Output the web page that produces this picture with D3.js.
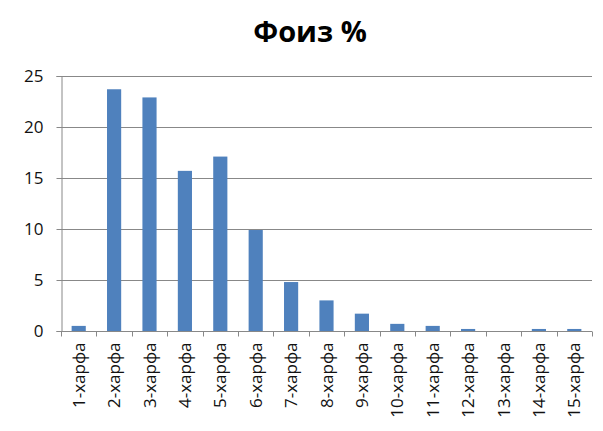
<!DOCTYPE html>
<html>
<head>
<meta charset="utf-8">
<script src="https://cdn.jsdelivr.net/npm/d3@7"></script>
<style>
  body { margin: 0; background: #fff; }
  text { font-family: "Open Sans", "Noto Sans", sans-serif; }
</style>
</head>
<body>
<svg id="chart" width="603" height="431"></svg>
<script>
// data
var categories = ["1-харфа","2-харфа","3-харфа","4-харфа","5-харфа","6-харфа","7-харфа",
                  "8-харфа","9-харфа","10-харфа","11-харфа","12-харфа","13-харфа","14-харфа","15-харфа"];
var values = [0.5, 23.7, 22.9, 15.7, 17.1, 9.9, 4.8, 3.0, 1.7, 0.7, 0.5, 0.2, 0, 0.2, 0.2];
var yTicks = [0, 5, 10, 15, 20, 25];
var title = "Фоиз %";

var chart = d3.select("#chart");
var plotLeft = 61, plotRight = 592, plotTop = 76, plotBottom = 331;

var xScale = d3.scaleBand()
    .domain(categories)
    .range([plotLeft, plotRight])
    .paddingInner(0.6)
    .paddingOuter(0.3);

var xEdge = d3.scaleLinear()
    .domain([0, categories.length])
    .range([plotLeft, plotRight]);

var yScale = d3.scaleLinear()
    .domain([0, 25])
    .range([plotBottom, plotTop]);

// title
chart.append("text")
    .text(title)
    .attr("x", 310)
    .attr("y", 42)
    .attr("text-anchor", "middle")
    .attr("font-size", "29px")
    .attr("font-weight", "bold")
    .attr("fill", "#000");

// gridlines
chart.append("g")
    .selectAll("line")
    .data(yTicks.filter(function(d) { return d > 0; }))
    .enter().append("line")
        .attr("x1", plotLeft)
        .attr("x2", plotRight)
        .attr("y1", function(d) { return Math.round(yScale(d)) + 0.5; })
        .attr("y2", function(d) { return Math.round(yScale(d)) + 0.5; })
        .attr("stroke", "#888")
        .attr("stroke-width", 1.2);

// bars
chart.append("g")
    .selectAll("rect")
    .data(values)
    .enter().append("rect")
        .attr("x", function(d, i) { return xScale(categories[i]); })
        .attr("y", function(d) { return yScale(d); })
        .attr("width", xScale.bandwidth())
        .attr("height", function(d) { return plotBottom - yScale(d); })
        .attr("fill", "#4F81BD");

// y axis
var yAxis = chart.append("g")
    .attr("transform", "translate(" + (plotLeft + 0.5) + ",0)")
    .call(d3.axisLeft(yScale).tickValues(yTicks).tickSize(5).tickPadding(13));
yAxis.selectAll("path, line").attr("stroke", "#888");
yAxis.selectAll("text").attr("font-size", "17px").attr("fill", "#111")
    .style("font-family", "'Open Sans', 'Noto Sans', sans-serif");

// x axis: ticks on category edges
var xAxis = chart.append("g")
    .attr("transform", "translate(0," + (plotBottom + 0.5) + ")");
xAxis.append("line")
    .attr("x1", plotLeft).attr("x2", plotRight)
    .attr("stroke", "#888");
xAxis.selectAll(".edge")
    .data(d3.range(categories.length + 1))
    .enter().append("line")
        .attr("class", "edge")
        .attr("x1", function(d) { return Math.round(xEdge(d)) + 0.5; })
        .attr("x2", function(d) { return Math.round(xEdge(d)) + 0.5; })
        .attr("y1", 0).attr("y2", 5)
        .attr("stroke", "#888");
xAxis.selectAll(".lbl")
    .data(categories)
    .enter().append("text")
        .attr("class", "lbl")
        .text(function(d) { return d; })
        .attr("transform", function(d) {
            return "translate(" + (xScale(d) + xScale.bandwidth() / 2 + 6) + ",11) rotate(-90)";
        })
        .attr("text-anchor", "end")
        .attr("font-size", "17px")
        .attr("fill", "#111");
</script>
</body>
</html>
